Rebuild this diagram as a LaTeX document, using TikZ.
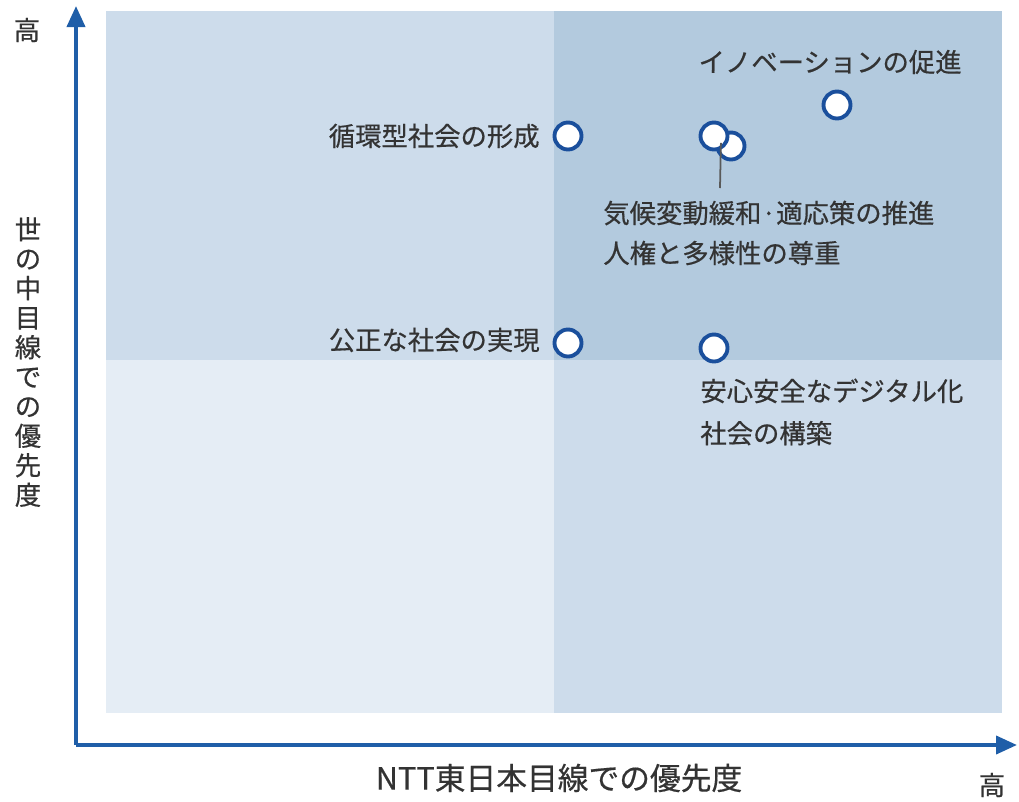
\documentclass[tikz,border=0pt]{standalone}
\usepackage{fontspec}
\newfontfamily\jpfont[FakeBold=0.5]{Noto Sans CJK JP}
\usetikzlibrary{arrows.meta, positioning}
\definecolor{axisblue}{HTML}{1F5EA8}
\definecolor{dotblue}{HTML}{1A4F9C}
\definecolor{qlight}{HTML}{CDDCEB}
\definecolor{qdark}{HTML}{B3CADE}
\definecolor{qpale}{HTML}{E5EDF5}
\definecolor{txtgray}{HTML}{333333}

\begin{document}
\begin{tikzpicture}[
    x=0.02cm, y=-0.02cm,
    lbl/.style={font=\jpfont\fontsize{15}{20}\selectfont, text=txtgray, inner sep=0pt},
    dot/.style={circle, draw=dotblue, fill=white, line width=2.2pt, minimum size=0.54cm, inner sep=0pt},
    axis/.style={draw=axisblue, line width=2.2pt, -{Triangle[length=4.2mm, width=3.6mm]}},
]
\useasboundingbox (0,0) rectangle (1019,802);
% quadrants
\fill[qlight] (106,11) rectangle (554,360);
\fill[qdark] (554,11) rectangle (1002,360);
\fill[qpale] (106,360) rectangle (554,713);
\fill[qlight] (554,360) rectangle (1002,713);

% axes
\coordinate (origin) at (76,745);
\coordinate (ytop) at (76,6);
\coordinate (xend) at (1017,745);
\draw[axis] (origin) -- (ytop);
\draw[axis] (origin) -- (xend);

% axis labels
\node[lbl] (yhigh) at (27,30) {高};
\node[lbl] (xhigh) at (992,785) {高};
\node[lbl, font=\jpfont\fontsize{17.5}{20}\selectfont] (xlabel) at (559,778) {NTT東日本目線での優先度};
\node[lbl, align=center, font=\jpfont\fontsize{15}{16.8}\selectfont] (ylabel) at (28,362)
    {世\\の\\中\\目\\線\\で\\の\\優\\先\\度};

% items
\node[dot] (inno) at (837,105) {};
\node[dot] (junkan) at (568,136) {};
\node[dot] (jinken) at (731,146) {};
\node[dot] (kikou) at (714,136) {};
\node[dot] (kousei) at (568,343) {};
\node[dot] (anshin) at (714,348) {};

\node[lbl, anchor=east] (tInno) at (962,62) {イノベーションの促進};
\node[lbl, anchor=east] (tJunkan) at (540,136) {循環型社会の形成};
\node[lbl, anchor=west] (tKikou) at (603,213) {気候変動緩和·適応策の推進};
\node[lbl, anchor=west] (tJinken) at (603,253) {人権と多様性の尊重};
\node[lbl, anchor=east] (tKousei) at (540,340) {公正な社会の実現};
\node[lbl, anchor=west, align=left] (tAnshin) at (700,412)
    {安心安全なデジタル化\\[4pt]社会の構築};

\coordinate (leadEnd) at (720,188);
\draw[gray!70!black, line width=1pt] (kikou.south east) ++(-4,-4) -- (leadEnd);
\end{tikzpicture}
\end{document}
